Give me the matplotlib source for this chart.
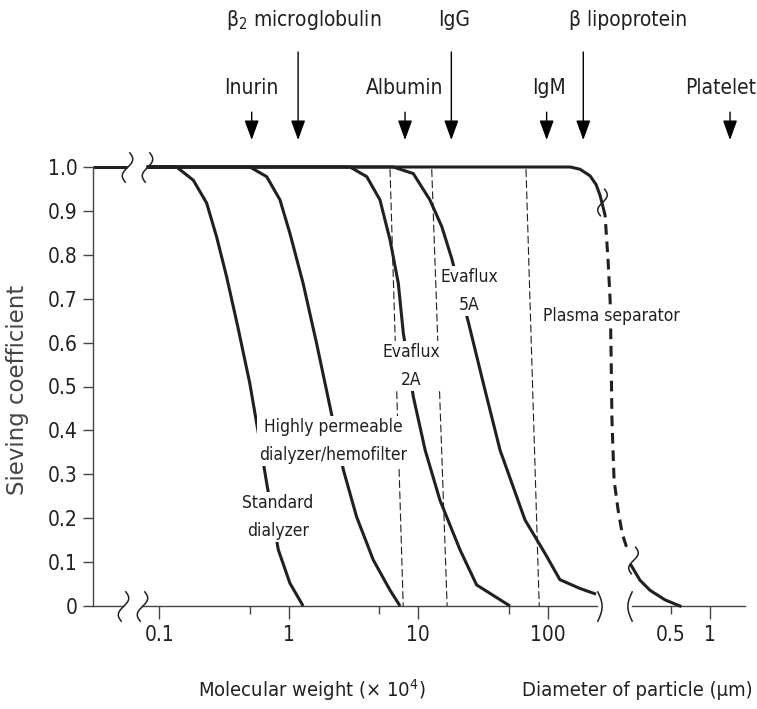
import numpy as np
import matplotlib.pyplot as plt
import matplotlib.font_manager as fm
from matplotlib.path import Path

# pick a condensed face if one is installed
narrow = [f for f in fm.fontManager.ttflist
          if f.style == 'normal' and f.weight in (400, 'normal', 'regular')
          and ('Narrow' in f.name or 'Condensed' in f.name or 'condensed' in str(f.stretch))]
FONT = narrow[0].name if narrow else 'Liberation Sans'
STRETCH = narrow[0].stretch if narrow else 'normal'
plt.rcParams['font.family'] = [FONT, 'DejaVu Sans']
plt.rcParams['font.stretch'] = STRETCH
plt.rcParams['mathtext.fontset'] = 'custom'
plt.rcParams['mathtext.rm'] = FONT
plt.rcParams['mathtext.it'] = FONT

INK = '#231f20'

# particle diameter (um) -> position on the molecular weight axis (x 10^4)
DIA = 10 ** 3.252

# sieving curves, molecular weight in x 10^4
std_mw = [0.08, 0.136, 0.183, 0.232, 0.277, 0.331, 0.406, 0.50, 0.60, 0.675, 0.83, 1.02, 1.29]
std_sc = [1.0, 1.0, 0.97, 0.918, 0.841, 0.75, 0.633, 0.507, 0.371, 0.28, 0.128, 0.052, 0.0]

hp_mw = [0.08, 0.501, 0.675, 0.855, 1.02, 1.29, 1.64, 2.08, 2.64, 3.34, 4.49, 6.05, 7.23]
hp_sc = [1.0, 1.0, 0.978, 0.925, 0.849, 0.735, 0.598, 0.454, 0.31, 0.203, 0.105, 0.036, 0.0]

e2a_mw = [0.08, 2.97, 4.0, 5.06, 6.05, 7.01, 7.66, 9.15, 11.3, 14.7, 21.0, 28.2, 51.1]
e2a_sc = [1.0, 1.0, 0.978, 0.925, 0.834, 0.735, 0.622, 0.477, 0.355, 0.241, 0.128, 0.048, 0.0]

e5a_mw = [0.08, 6.41, 9.15, 12.3, 15.2, 18.1, 24.3, 31.8, 42.8, 66.7, 95.1, 124, 177, 236]
e5a_sc = [1.0, 1.0, 0.985, 0.925, 0.864, 0.792, 0.648, 0.507, 0.355, 0.196, 0.12, 0.06, 0.04, 0.027]

ps_mw = [0.08, 149, 177, 212, 236, 253, 267]
ps_sc = [1.0, 1.0, 0.995, 0.98, 0.96, 0.936, 0.909]
ps_dash_mw = [267, 277, 292, 303, 308, 313, 325, 349, 375, 417]
ps_dash_sc = [0.909, 0.89, 0.788, 0.697, 0.583, 0.424, 0.287, 0.219, 0.166, 0.123]
ps_tail_dia = [0.246, 0.288, 0.344, 0.45, 0.587]
ps_tail_sc = [0.093, 0.059, 0.036, 0.014, 0.0]

# cut-off guides (top and bottom molecular weight)
cut_top = [6.05, 12.7, 67.9]
cut_bot = [7.65, 16.7, 85.9]

# marker substances
subs = ['Inurin', r'β$_{2}$ microglobulin', 'Albumin', 'IgG', 'IgM', 'β lipoprotein', 'Platelet']
subs_x = [0.517, 1.18, 7.9, 18.0, 98.0, 188.0, 1.43 * DIA]
subs_long = [False, True, False, True, False, True, False]
subs_dx = [0, 4, 0, 2, 2, 32, -7]

curve_labels = ['Standard\ndialyzer', 'Highly permeable\ndialyzer/hemofilter',
                'Evaflux\n2A', 'Evaflux\n5A', 'Plasma separator']
curve_lab_x = [0.826, 2.19, 8.78, 24.6, 308]
curve_lab_y = [0.203, 0.376, 0.547, 0.7175, 0.66]

yticks = [0, 0.1, 0.2, 0.3, 0.4, 0.5, 0.6, 0.7, 0.8, 0.9, 1.0]
ytick_labels = ['0', '0.1', '0.2', '0.3', '0.4', '0.5', '0.6', '0.7', '0.8', '0.9', '1.0']
xmajor = [0.1, 1, 10, 100, 1.0 * DIA]
xmajor_labels = ['0.1', '1', '10', '100', '1']
xminor = [0.5, 5, 50, 0.5 * DIA]
xminor_labels = ['', '', '', '0.5']

# axis breaks
brk_left = [0.0525, 0.0736]
brk_top = [0.0563, 0.0804]
brk_right = [240, 0.250 * DIA]

fig = plt.figure(figsize=(7.57, 7.09), dpi=100)
ax = fig.add_axes([93 / 757, 103 / 709, 652 / 757, 439 / 709])
ax.set_xscale('log')
ax.set_xlim(10 ** -1.512, 10 ** 3.523)
ax.set_ylim(0, 1)
for s in ['top', 'right', 'bottom']:
    ax.spines[s].set_visible(False)
ax.spines['left'].set_color('#444444')
ax.spines['left'].set_linewidth(1)

ax.set_yticks(yticks)
ax.set_yticklabels(ytick_labels, fontsize=15, color=INK)
ax.tick_params(axis='y', length=7, width=1, pad=4, color='#444444')
ax.set_xticks(xmajor)
ax.set_xticklabels(xmajor_labels, fontsize=15, color=INK)
ax.set_xticks(xminor, minor=True)
ax.set_xticklabels(xminor_labels, minor=True, fontsize=15, color=INK)
ax.tick_params(axis='x', which='major', length=9, width=1, pad=5, color='#444444')
ax.tick_params(axis='x', which='minor', length=6, width=1, pad=8, color='#444444')

# x axis line with breaks
x0, x1 = ax.get_xlim()
for a, b in [(x0, brk_left[0]), (brk_left[1], brk_right[0]), (brk_right[1], x1)]:
    ax.plot([a, b], [0, 0], color='#444444', lw=1, clip_on=False, zorder=2)
ax.plot([x0, brk_top[0]], [1, 1], color=INK, lw=2.2, clip_on=False, solid_capstyle='butt')

# break glyphs
t = np.linspace(-1, 1, 25)
s_mark = Path(np.column_stack([0.28 * np.sin(np.pi * t) + 0.12 * t, t]))
c_right = Path(np.column_stack([0.3 * np.cos(np.pi * t / 2), t]))
c_left = Path(np.column_stack([-0.3 * np.cos(np.pi * t / 2), t]))
mk = dict(color=INK, mfc='none', mew=1.1, ls='none', clip_on=False, zorder=4)
ax.plot(brk_left, [0, 0], marker=s_mark, ms=22, **mk)
ax.plot(brk_top, [1, 1], marker=s_mark, ms=22, **mk)
ax.plot([brk_right[0]], [0], marker=c_right, ms=22, **mk)
ax.plot([brk_right[1]], [0], marker=c_left, ms=22, **mk)
ax.plot([262], [0.92], marker=s_mark, ms=20, **mk)
ax.plot([0.255 * DIA], [0.105], marker=s_mark, ms=20, **mk)

# curves
lw = 2.2
for xs, ys in [(std_mw, std_sc), (hp_mw, hp_sc), (e2a_mw, e2a_sc), (e5a_mw, e5a_sc), (ps_mw, ps_sc)]:
    ax.plot(xs, ys, color=INK, lw=lw, clip_on=False, solid_capstyle='butt', zorder=3)
ax.plot(ps_dash_mw, ps_dash_sc, color=INK, lw=lw, dashes=(3.5, 2.2), clip_on=False, zorder=3)
ax.plot([d * DIA for d in ps_tail_dia], ps_tail_sc, color=INK, lw=lw, clip_on=False, zorder=3)

for a, b in zip(cut_top, cut_bot):
    ax.plot([a, b], [0.995, 0], color=INK, lw=0.8, dashes=(7, 3), zorder=2)

for lab, x, y in zip(curve_labels, curve_lab_x, curve_lab_y):
    ax.text(x, y, lab, ha='center', va='center', fontsize=12.5, color=INK, linespacing=1.7,
            bbox=dict(facecolor='white', edgecolor='none', pad=1.5), zorder=5)

# marker substance arrows
for lab, x, lng, dx in zip(subs, subs_x, subs_long, subs_dx):
    top = 1.262 if lng else 1.125
    ax.annotate('', xy=(x, 1.0615), xytext=(x, top), annotation_clip=False,
                arrowprops=dict(arrowstyle='-|>,head_length=0.55,head_width=0.2', lw=1,
                                color='black', shrinkA=0, shrinkB=0, mutation_scale=22))
    ax.annotate(lab, xy=(x, 1.335 if lng else 1.18), xytext=(dx, 0), textcoords='offset points',
                ha='center', va='center', fontsize=15, color=INK, annotation_clip=False)

fig.text(18 / 757, 1 - 390 / 709, 'Sieving coefficient', rotation=90, ha='center', va='center',
         fontsize=16.5, family='DejaVu Sans', stretch='normal', color='#444444')
fig.text(312 / 757, 1 - 690 / 709, r'Molecular weight (× 10$^{4}$)', ha='center', va='center',
         fontsize=14.5, color=INK)
fig.text(637 / 757, 1 - 690 / 709, 'Diameter of particle (µm)', ha='center', va='center',
         fontsize=14.5, color=INK)

fig.savefig('out.png', dpi=100, facecolor='white')
